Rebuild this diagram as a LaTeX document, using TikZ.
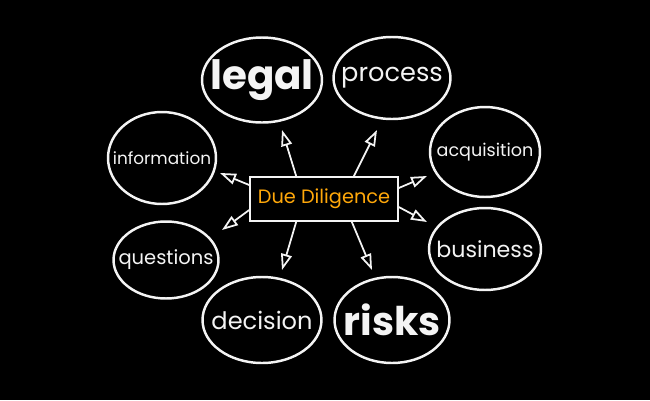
\documentclass[tikz,border=0pt]{standalone}
\usepackage{fontspec}
\usepackage{tikz}
\usetikzlibrary{arrows.meta,positioning,shapes.geometric}
\setmainfont{Poppins}
\definecolor{chalkwhite}{HTML}{F4F4F4}
\definecolor{ddorange}{HTML}{FFA80A}
\definecolor{boardblack}{HTML}{000000}

\newcommand{\bubbletext}[1]{\makebox[0pt]{#1}}

\tikzset{
  bubble/.style={
    draw=chalkwhite,
    line width=1.4pt,
    ellipse,
    inner sep=0pt,
    text=chalkwhite
  },
  pointer/.style={
    draw=chalkwhite,
    line width=1pt,
    -{Triangle[open,length=0.32cm,width=0.22cm,line width=1pt]}
  }
}

\begin{document}
\begin{tikzpicture}[x=0.02cm,y=-0.02cm]
\fill[boardblack] (0,0) rectangle (650,400);
\useasboundingbox (0,0) rectangle (650,400);

% centre card
\node[
  draw=chalkwhite,
  fill=boardblack,
  line width=0.9pt,
  minimum width=2.96cm,
  minimum height=0.88cm,
  inner sep=0pt,
  text=ddorange,
  font=\fontsize{11}{13}\selectfont
] (duediligence) at (324,199) {Due Diligence};

% bubbles round the card
\node[bubble, minimum width=2.4cm, minimum height=1.7cm,
  font=\fontsize{23}{26}\selectfont\bfseries] (legal) at (262,80) {\bubbletext{legal}};
\node[bubble, minimum width=2.34cm, minimum height=1.64cm,
  font=\fontsize{14.6}{17}\selectfont] (process) at (392,78) {\bubbletext{process}};
\node[bubble, minimum width=2.16cm, minimum height=1.84cm,
  font=\fontsize{9.6}{11}\selectfont] (information) at (162,158) {\bubbletext{information}};
\node[bubble, minimum width=2.2cm, minimum height=1.8cm,
  font=\fontsize{10}{12}\selectfont] (acquisition) at (485,152) {\bubbletext{acquisition}};
\node[bubble, minimum width=2.24cm, minimum height=1.64cm,
  font=\fontsize{12.6}{15}\selectfont] (business) at (485,249) {\bubbletext{business}};
\node[bubble, minimum width=2.1cm, minimum height=1.54cm,
  font=\fontsize{11.1}{13}\selectfont] (questions) at (166,260) {\bubbletext{questions}};
\node[bubble, minimum width=2.38cm, minimum height=1.72cm,
  font=\fontsize{13.7}{16}\selectfont] (decision) at (262,320) {\bubbletext{decision}};
\node[bubble, minimum width=2.3cm, minimum height=1.72cm,
  font=\fontsize{22.5}{25}\selectfont\bfseries] (risks) at (392,320) {\bubbletext{risks}};

% arrow tips, short of the bubbles
\coordinate (tolegal) at (282,130);
\coordinate (toprocess) at (377,130);
\coordinate (toinformation) at (220,173);
\coordinate (toquestions) at (222,230);
\coordinate (toacquisition) at (427,176);
\coordinate (tobusiness) at (427,222);
\coordinate (todecision) at (282,270);
\coordinate (torisks) at (372,270);

\draw[pointer] ([xshift=0.94cm]duediligence.north west) -- (tolegal);
\draw[pointer] ([xshift=-0.9cm]duediligence.north east) -- (toprocess);
\draw[pointer] ([yshift=0.28cm]duediligence.west) -- (toinformation);
\draw[pointer] ([yshift=-0.22cm]duediligence.west) -- (toquestions);
\draw[pointer] ([yshift=0.22cm]duediligence.east) -- (toacquisition);
\draw[pointer] ([yshift=-0.16cm]duediligence.east) -- (tobusiness);
\draw[pointer] ([xshift=0.94cm]duediligence.south west) -- (todecision);
\draw[pointer] ([xshift=-0.94cm]duediligence.south east) -- (torisks);
\end{tikzpicture}
\end{document}
